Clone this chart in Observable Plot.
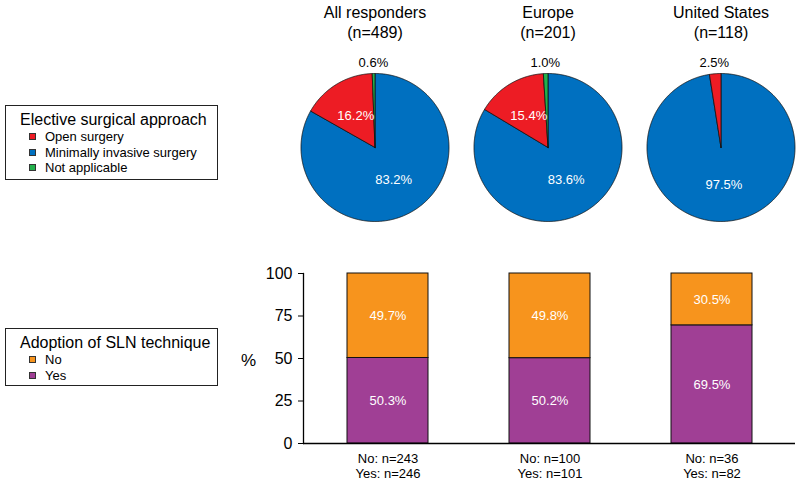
<!DOCTYPE html>
<html>
<head>
<meta charset="utf-8">
<script src="https://cdn.jsdelivr.net/npm/d3@7"></script>
<script src="https://cdn.jsdelivr.net/npm/@observablehq/plot@0.6"></script>
<style>
  html, body { margin: 0; padding: 0; background: #fff; }
  #wrap { position: relative; width: 800px; height: 480px; overflow: hidden; background: #fff;
          font-family: "Liberation Sans", Arial, sans-serif; color: #000; }
  .legend { position: absolute; box-sizing: border-box; border: 1px solid #222; background: #fff; }
  .legend .ttl { font-size: 16px; line-height: 18px; padding-left: 14px; white-space: nowrap; }
  .legend .item { font-size: 13px; line-height: 15.5px; display: flex; align-items: center; white-space: nowrap; }
  .legend .sw { width: 7px; height: 7px; box-sizing: border-box; border: 1px solid #333; margin-left: 23px; margin-right: 9px; }
</style>
</head>
<body>
<div id="wrap">
  <div id="pies" style="position:absolute;left:0;top:0"></div>
  <div id="bars" style="position:absolute;left:0;top:235px"></div>
  <div id="leg1" class="legend" style="left:5px;top:105px;width:213px;height:75px;padding-top:5px"></div>
  <div id="leg2" class="legend" style="left:5px;top:328px;width:213px;height:58px;padding-top:5px"></div>
</div>
<script>
// ---------- data ----------
const groups = ["All responders", "Europe", "United States"];
const groupN = [489, 201, 118];

// pie slices (clockwise from 12 o'clock)
const approaches = ["Minimally invasive surgery", "Open surgery", "Not applicable"];
const approachColors = ["#0070C0", "#ED1C24", "#22B14C"];
const minInvasive = [83.2, 83.6, 97.5];
const openSurgery = [16.2, 15.4, 2.5];
const notApplicable = [0.6, 1.0, 0];
const legend1Order = ["Open surgery", "Minimally invasive surgery", "Not applicable"];
const legend1Title = "Elective surgical approach";

// stacked bars
const answers = ["Yes", "No"];            // bottom to top
const answerColors = ["#A03F95", "#F7941D"];
const slnYes = [50.3, 50.2, 69.5];
const slnNo = [49.7, 49.8, 30.5];
const nYes = [246, 101, 82];
const nNo = [243, 100, 36];
const legend2Order = ["No", "Yes"];
const legend2Title = "Adoption of SLN technique";
const yTicks = [0, 25, 50, 75, 100];

const FONT = "'Liberation Sans', Arial, sans-serif";
const fmt = v => v.toFixed(1) + "%";

// ---------- pies ----------
const R_PX = 74, BAND = 173;
const half = BAND / 2 / R_PX;
const pieGen = d3.pie().sort(null).value(d => d.v);
const piePoints = [];
const pieLabels = [];
groups.forEach((g, gi) => {
  const slices = [
    {a: approaches[0], v: minInvasive[gi]},
    {a: approaches[1], v: openSurgery[gi]},
    {a: approaches[2], v: notApplicable[gi]}
  ];
  pieGen(slices).forEach(arc => {
    if (arc.data.v <= 0) return;
    const id = g + "|" + arc.data.a;
    const n = Math.max(2, Math.ceil((arc.endAngle - arc.startAngle) / 0.01));
    piePoints.push({group: g, id, approach: arc.data.a, x: 0, y: 0});
    for (let k = 0; k <= n; k++) {
      const t = arc.startAngle + (arc.endAngle - arc.startAngle) * k / n;
      piePoints.push({group: g, id, approach: arc.data.a, x: Math.sin(t), y: Math.cos(t)});
    }
    piePoints.push({group: g, id, approach: arc.data.a, x: 0, y: 0});
    const mid = (arc.startAngle + arc.endAngle) / 2;
    const inside = arc.data.v >= 5;
    const r = inside ? 0.5 : 1.15;
    pieLabels.push({group: g, inside, text: fmt(arc.data.v), x: r * Math.sin(mid), y: r * Math.cos(mid)});
  });
});
const titles = groups.map((g, i) => ({group: g, text: g + "\n(n=" + groupN[i] + ")"}));

const pies = Plot.plot({
  width: 288 + 3 * BAND, height: 232,
  marginLeft: 288, marginRight: 0, marginTop: 73, marginBottom: 11,
  style: {maxWidth: "none", overflow: "visible", fontFamily: FONT, background: "transparent"},
  fx: {domain: groups, padding: 0, axis: null},
  x: {domain: [-half, half], axis: null},
  y: {domain: [-1, 1], axis: null},
  color: {domain: approaches, range: approachColors},
  marks: [
    Plot.line(piePoints, {fx: "group", x: "x", y: "y", z: "id", fill: "approach", stroke: "#111", strokeWidth: 0.8, strokeLinejoin: "miter"}),
    Plot.text(pieLabels.filter(d => d.inside), {fx: "group", x: "x", y: "y", text: "text", fill: "white", fontSize: 13}),
    Plot.text(pieLabels.filter(d => !d.inside), {fx: "group", x: "x", y: "y", text: "text", fill: "black", fontSize: 13}),
    Plot.text(titles, {fx: "group", text: "text", frameAnchor: "top", lineAnchor: "top", dy: -70, fontSize: 16, lineHeight: 1.25, fill: "black"})
  ]
});
document.getElementById("pies").appendChild(pies);

// ---------- bars ----------
const barData = [];
groups.forEach((g, gi) => {
  barData.push({group: g, answer: "Yes", value: slnYes[gi]});
  barData.push({group: g, answer: "No", value: slnNo[gi]});
});
const xLabels = new Map(groups.map((g, i) => [g, "No: n=" + nNo[i] + "\nYes: n=" + nYes[i]]));

const bars = Plot.plot({
  width: 800, height: 245,
  marginLeft: 303, marginRight: 5, marginTop: 38, marginBottom: 37,
  style: {fontFamily: FONT, background: "transparent", overflow: "visible"},
  x: {domain: groups, paddingInner: 0.5, paddingOuter: 0.26, axis: null},
  y: {domain: [0, 100], axis: null},
  color: {domain: answers, range: answerColors},
  marks: [
    Plot.barY(barData, {x: "group", y: "value", fill: "answer", z: "answer", order: answers, stroke: "#111", strokeWidth: 1}),
    Plot.text(barData, Plot.stackY({x: "group", y: "value", z: "answer", order: answers, text: d => fmt(d.value), fill: "white", fontSize: 13})),
    Plot.axisY({ticks: yTicks, tickSize: 5, tickPadding: 6, fontSize: 16, label: null, stroke: "black", color: "black"}),
    Plot.axisX({tickSize: 0, tickPadding: 9, fontSize: 13, lineHeight: 1.15, label: null, tickFormat: g => xLabels.get(g), color: "black"}),
    Plot.frame({anchor: "left", stroke: "black", strokeWidth: 1.3}),
    Plot.ruleY([0], {stroke: "black", strokeWidth: 1.5}),
    Plot.text(["%"], {frameAnchor: "left", textAnchor: "middle", dx: -55, dy: 2, fontSize: 17, fill: "black"})
  ]
});
document.getElementById("bars").appendChild(bars);

// ---------- legends ----------
function buildLegend(el, title, order, domain, range) {
  const t = document.createElement("div");
  t.className = "ttl"; t.textContent = title; el.appendChild(t);
  order.forEach(name => {
    const row = document.createElement("div"); row.className = "item";
    const sw = document.createElement("span"); sw.className = "sw";
    sw.style.background = range[domain.indexOf(name)];
    const tx = document.createElement("span"); tx.textContent = name;
    row.appendChild(sw); row.appendChild(tx); el.appendChild(row);
  });
}
buildLegend(document.getElementById("leg1"), legend1Title, legend1Order, approaches, approachColors);
buildLegend(document.getElementById("leg2"), legend2Title, legend2Order, answers, answerColors);
</script>
</body>
</html>
